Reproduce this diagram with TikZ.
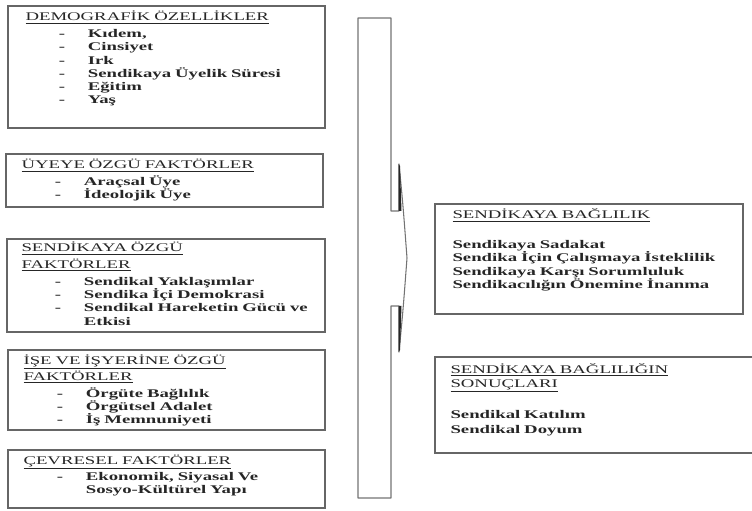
\documentclass[tikz,border=0pt]{standalone}
\usepackage{fontspec}
\setmainfont[FakeStretch=1.6]{Liberation Serif}
\usetikzlibrary{fit}
\newcommand{\madde}[1]{\hspace*{1.0cm}\makebox[0.87cm][l]{\textbf{-}}\textbf{#1}}
\newcommand{\devam}[1]{\hspace*{1.87cm}\textbf{#1}}
\newcommand{\yazifont}{\fontsize{10}{11.3}\selectfont\lineskiplimit=-8pt\relax}

\begin{document}
\begin{tikzpicture}[
    x=0.03cm, y=-0.03cm,
    line width=0.9pt,
    kutu/.style={rectangle, draw=black!60, inner sep=0pt},
    yazi/.style={anchor=base west, align=left, text width=9cm, inner sep=0pt,
                 text=black!85, font=\yazifont}
]
  \useasboundingbox (0,0) rectangle (752,511);

  % boxes
  \node (demo)  [kutu, fit={(8,6) (325,128)}]    {};
  \node (uye)   [kutu, fit={(6,154) (323,207)}]  {};
  \node (sen)   [kutu, fit={(7,239) (325,332)}]  {};
  \node (isyer) [kutu, fit={(8,350) (325,430)}]  {};
  \node (cevre) [kutu, fit={(8,450) (325,508)}]  {};
  \node (bag)   [kutu, fit={(435,204) (743,314)}] {};
  \node (sonuc) [kutu, fit={(435,357) (770,453)}] {};

  % texts
  \node (demotxt) [yazi] at (25,21) {\underline{DEMOGRAFİK ÖZELLİKLER}\\[3pt]
    \madde{Kıdem,}\\ \madde{Cinsiyet}\\ \madde{Irk}\\
    \madde{Sendikaya Üyelik Süresi}\\ \madde{Eğitim}\\ \madde{Yaş}};
  \node (uyetxt) [yazi] at (21,169) {\underline{ÜYEYE ÖZGÜ FAKTÖRLER}\\[3pt]
    \madde{Araçsal Üye}\\ \madde{İdeolojik Üye}};
  \node (sentxt) [yazi] at (21,252) {\underline{SENDİKAYA ÖZGÜ}\\[3pt]
    \underline{FAKTÖRLER}\\[3pt]
    \madde{Sendikal Yaklaşımlar}\\ \madde{Sendika İçi Demokrasi}\\
    \madde{Sendikal Hareketin Gücü ve}\\ \devam{Etkisi}};
  \node (isyertxt) [yazi] at (23,364) {\underline{İŞE VE İŞYERİNE ÖZGÜ}\\[3pt]
    \underline{FAKTÖRLER}\\[3pt]
    \madde{Örgüte Bağlılık}\\ \madde{Örgütsel Adalet}\\ \madde{İş Memnuniyeti}};
  \node (cevretxt) [yazi] at (23,464) {\underline{ÇEVRESEL FAKTÖRLER}\\[3pt]
    \madde{Ekonomik, Siyasal Ve}\\ \devam{Sosyo-Kültürel Yapı}};
  \node (bagtxt) [yazi] at (452,219) {\underline{SENDİKAYA BAĞLILIK}\\[14pt]
    \textbf{Sendikaya Sadakat}\\ \textbf{Sendika İçin Çalışmaya İsteklilik}\\
    \textbf{Sendikaya Karşı Sorumluluk}\\ \textbf{Sendikacılığın Önemine İnanma}};
  \node (sonuctxt) [yazi] at (450,373) {\underline{SENDİKAYA BAĞLILIĞIN}\\[1pt]
    \underline{SONUÇLARI}\\[15pt]
    \textbf{Sendikal Katılım}\\[1.5pt] \textbf{Sendikal Doyum}};

  % bar with arrow
  \draw[black!55, line join=round]
    (358,18) -- (391,18) -- (391,211) -- (399,211) -- (399,164)
    .. controls (403,205) .. (407,258)
    .. controls (403,311) .. (399,352) -- (399,306) -- (391,306)
    -- (391,498) -- (358,498) -- cycle;
  \fill[black!85] (398.5,164) -- (400,166) -- (401.5,211) -- (398.5,211) -- cycle;
  \fill[black!85] (398.5,306) -- (401.5,306) -- (400,350) -- (398.5,352) -- cycle;
\end{tikzpicture}
\end{document}
